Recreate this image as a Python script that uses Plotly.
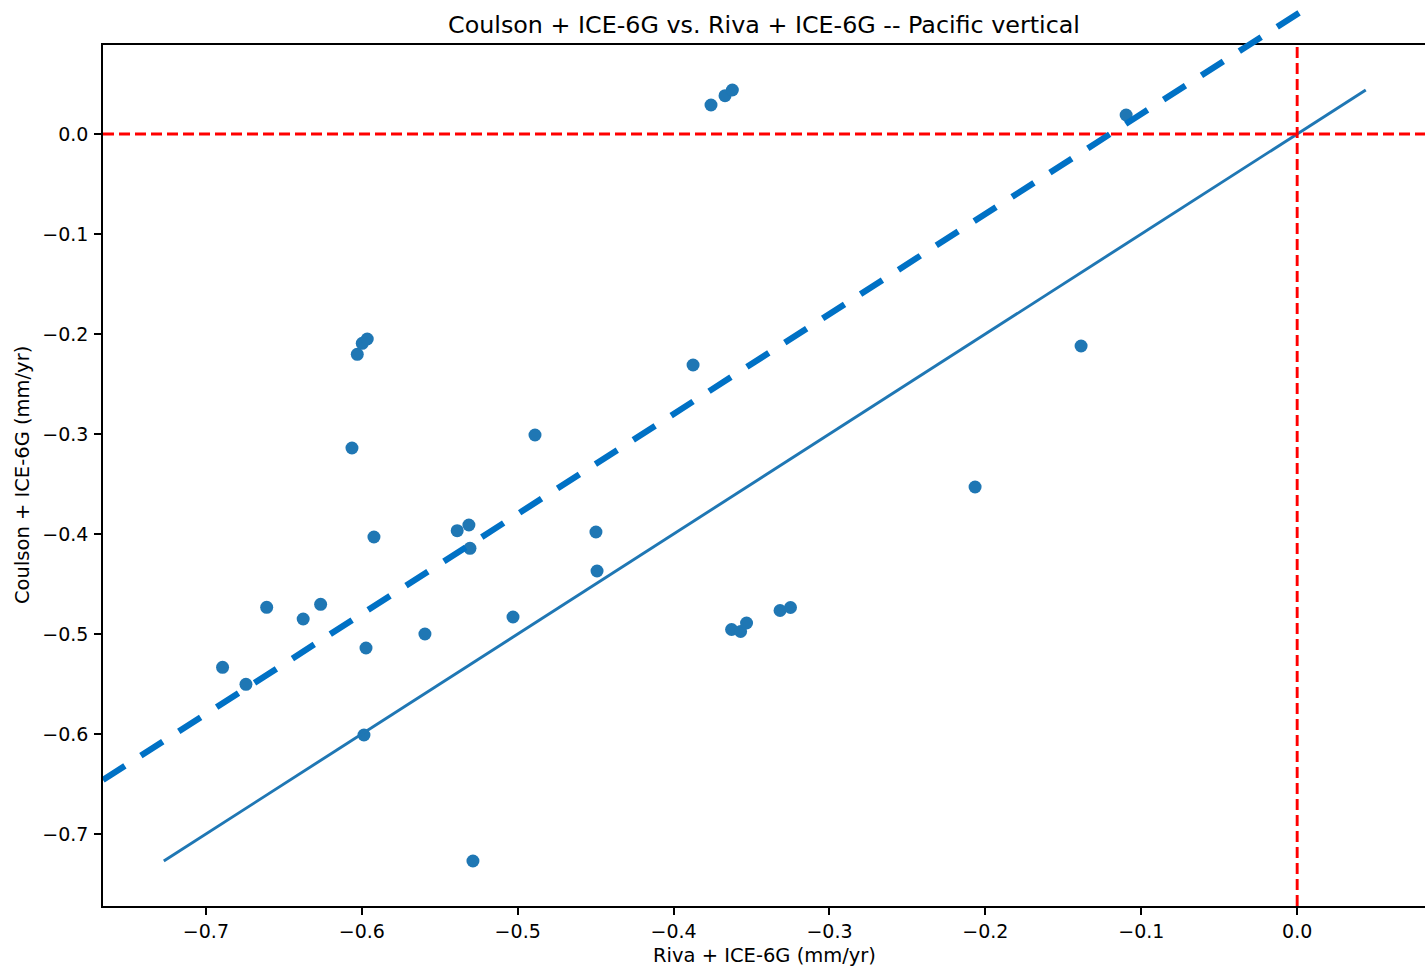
import plotly.graph_objects as go

# ---- data ----
riva = [
    -0.3760, -0.3670, -0.3623, -0.1097,
    -0.6029, -0.5997, -0.5965, -0.6063, -0.5922,
    -0.3875, -0.1386, -0.4889, -0.2066,
    -0.5388, -0.5313, -0.5306, -0.4498, -0.4491,
    -0.6610, -0.6376, -0.6264, -0.6893, -0.6743,
    -0.5595, -0.5030, -0.5973, -0.5986, -0.5287,
    -0.3628, -0.3570, -0.3532, -0.3317, -0.3250,
]
coulson = [
    0.0290, 0.0383, 0.0440, 0.0190,
    -0.2203, -0.2093, -0.2050, -0.3140, -0.4030,
    -0.2310, -0.2120, -0.3010, -0.3530,
    -0.3967, -0.3910, -0.4143, -0.3980, -0.4370,
    -0.4733, -0.4850, -0.4703, -0.5333, -0.5503,
    -0.5000, -0.4830, -0.5140, -0.6010, -0.7270,
    -0.4955, -0.4975, -0.4890, -0.4765, -0.4735,
]
FIT_SLOPE = 1.0
FIT_INTERCEPT = 0.12
FIT_X = [-0.766, 0.005]

TICK_VALUES = [-0.7, -0.6, -0.5, -0.4, -0.3, -0.2, -0.1, 0.0]
TICK_LABELS = ["\u22120.7", "\u22120.6", "\u22120.5", "\u22120.4",
               "\u22120.3", "\u22120.2", "\u22120.1", "0.0"]

TITLE = "Coulson + ICE-6G vs. Riva + ICE-6G -- Pacific vertical"
X_LABEL = "Riva + ICE-6G (mm/yr)"
Y_LABEL = "Coulson + ICE-6G (mm/yr)"

# ---- layout geometry (body margin removed by post_script) ----
W, H = 1425, 968
L, B = 103, 62
X_RANGE = [-0.766, 0.082]
Y_RANGE = [-0.772, 0.089]
FRAME_H = 861
PLOT_H = H - B
y_dom_top = FRAME_H / PLOT_H
y_per_px = (Y_RANGE[1] - Y_RANGE[0]) / FRAME_H
Y2_RANGE = [Y_RANGE[0], Y_RANGE[0] + y_per_px * PLOT_H]

FONT = "DejaVu Sans"
BLUE = "#1f77b4"
FIT_BLUE = "#0071c5"

lo = min(min(riva), min(coulson))
hi = max(max(riva), max(coulson))
fit_y = [FIT_SLOPE * v + FIT_INTERCEPT for v in FIT_X]

fig = go.Figure()
fig.add_trace(go.Scatter(x=riva, y=coulson, mode="markers",
                         marker=dict(size=13, color=BLUE, line=dict(width=0)),
                         xaxis="x", yaxis="y", showlegend=False))
fig.add_trace(go.Scatter(x=[lo, hi], y=[lo, hi], mode="lines",
                         line=dict(color=BLUE, width=2.9),
                         xaxis="x", yaxis="y", showlegend=False))
fig.add_trace(go.Scatter(x=X_RANGE, y=[0, 0], mode="lines",
                         line=dict(color="red", width=2.9, dash="11px,5px"),
                         xaxis="x", yaxis="y", showlegend=False))
fig.add_trace(go.Scatter(x=[0, 0], y=Y_RANGE, mode="lines",
                         line=dict(color="red", width=2.9, dash="11px,5px"),
                         xaxis="x", yaxis="y", showlegend=False))
fig.add_trace(go.Scatter(x=FIT_X, y=fit_y, mode="lines",
                         line=dict(color=FIT_BLUE, width=6.2, dash="26px,19px"),
                         xaxis="x2", yaxis="y2", showlegend=False))

tickfont = dict(family=FONT, size=19, color="black")
common = dict(showgrid=False, zeroline=False, showline=True, linecolor="black",
              linewidth=1.5, ticks="outside", ticklen=7, tickwidth=1.6,
              tickcolor="black", tickfont=tickfont, tickmode="array",
              tickvals=TICK_VALUES, ticktext=TICK_LABELS)

fig.update_layout(
    width=W, height=H,
    margin=dict(l=L, r=0, t=0, b=B, pad=0),
    paper_bgcolor="white", plot_bgcolor="rgba(0,0,0,0)",
    xaxis=dict(domain=[0, 1], range=X_RANGE, anchor="y", mirror=True, **common),
    yaxis=dict(domain=[0, y_dom_top], range=Y_RANGE, anchor="x", mirror=False,
               ticklabelstandoff=2, **common),
    xaxis2=dict(domain=[0, 1], range=X_RANGE, anchor="y2", visible=False),
    yaxis2=dict(domain=[0, 1], range=Y2_RANGE, anchor="x2", visible=False),
    title=dict(text=TITLE, x=0.5, xref="paper", xanchor="center",
               y=1 - 25 / H, yref="container", yanchor="middle",
               font=dict(family=FONT, size=23.8, color="black")),
    annotations=[
        dict(text=X_LABEL, x=0.5, xref="paper", xanchor="center",
             y=-(955 - PLOT_H) / PLOT_H, yref="paper", yanchor="middle",
             showarrow=False, font=dict(family=FONT, size=19.5, color="black")),
        dict(text=Y_LABEL, x=(22 - L) / (W - L), xref="paper",
             xanchor="center",
             y=(PLOT_H - 475) / PLOT_H, yref="paper", yanchor="middle",
             textangle=-90, showarrow=False,
             font=dict(family=FONT, size=19.5, color="black")),
    ],
)

fig.write_html(
    "out.html",
    config={"displayModeBar": False},
    post_script="document.body.style.margin='0px';"
                "document.documentElement.style.overflow='hidden';",
)
